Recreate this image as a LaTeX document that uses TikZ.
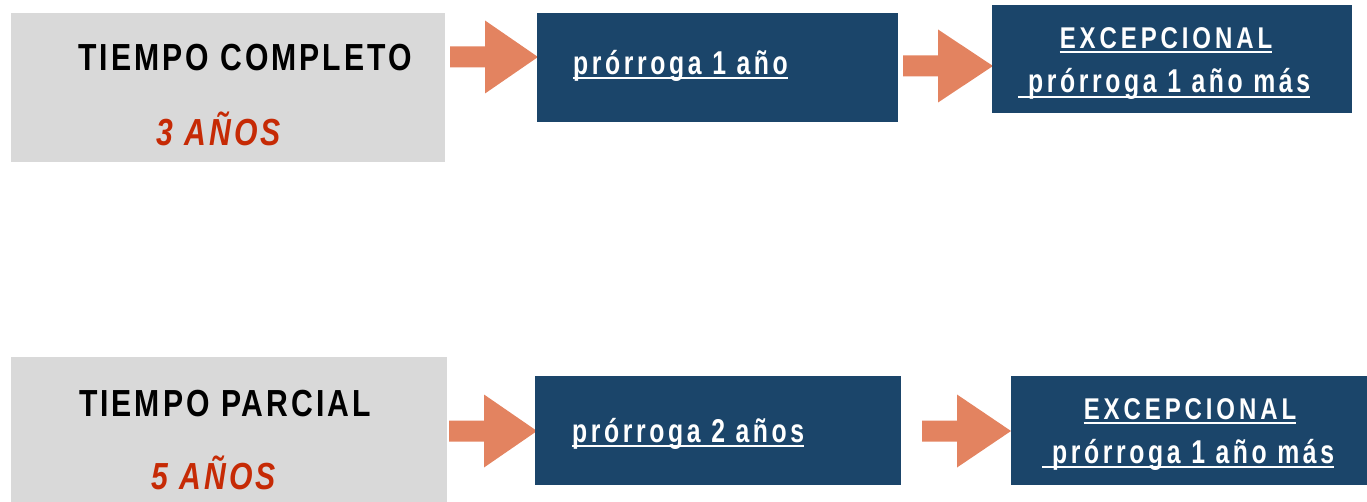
\documentclass[tikz,border=0pt]{standalone}
\usepackage{fontspec}
\newfontfamily\blkfont[FakeStretch=0.8,LetterSpace=8]{Liberation Sans}
\newfontfamily\whtfont[FakeStretch=0.8,LetterSpace=13]{Liberation Sans}
\newfontfamily\lowfont[FakeStretch=0.75,LetterSpace=11]{Liberation Sans}
\definecolor{boxgray}{HTML}{D9D9D9}
\definecolor{boxblue}{HTML}{1B456A}
\definecolor{arroworange}{HTML}{E38360}
\definecolor{textred}{HTML}{C62A05}
\tikzset{
  graybox/.style={fill=boxgray, draw=none, anchor=north west, inner sep=0pt},
  bluebox/.style={fill=boxblue, draw=none, anchor=north west, inner sep=0pt},
  blacktxt/.style={anchor=base, inner sep=0pt, text=black, font=\blkfont\bfseries\fontsize{37.7}{40}\selectfont},
  redtxt/.style={anchor=base, inner sep=0pt, text=textred, font=\blkfont\bfseries\itshape\fontsize{37.7}{40}\selectfont},
  whitetxt/.style={inner sep=0pt, text=white, font=\whtfont\bfseries\fontsize{30}{32}\selectfont},
  lowtxt/.style={inner sep=0pt, text=white, font=\lowfont\bfseries\fontsize{33}{35}\selectfont},
  uline/.style={draw=white, line width=2pt},
  blockarrow/.style={fill=arroworange, draw=none}
}
\newcommand\barrow[4]{%
  \fill[blockarrow] (#1,#4-10.5) -- (#2,#4-10.5) -- (#2,#4-36.5) -- (#3,#4)
    -- (#2,#4+36.5) -- (#2,#4+10.5) -- (#1,#4+10.5) -- cycle;}
\begin{document}
\begin{tikzpicture}[x=1pt,y=-1pt]
\useasboundingbox (0,0) rectangle (1367,502);
% arrows
\barrow{450}{485}{538}{57}
\barrow{903}{938}{993}{66}
\barrow{449}{484}{537}{431}
\barrow{922}{957}{1011}{431}
% boxes
\node[graybox, minimum width=434pt, minimum height=149pt] (g1) at (11,13) {};
\node[bluebox, minimum width=361pt, minimum height=109pt] (b1) at (537,13) {};
\node[bluebox, minimum width=360pt, minimum height=108pt] (c1) at (992,5) {};
\node[graybox, minimum width=436pt, minimum height=145pt] (g2) at (11,357) {};
\node[bluebox, minimum width=366pt, minimum height=109pt] (b2) at (535,376) {};
\node[bluebox, minimum width=356pt, minimum height=109pt] (c2) at (1011,376) {};
% gray texts
\node[blacktxt] (t1) at (245,71) {TIEMPO COMPLETO};
\node[redtxt] (y1) at (218.5,146) {3 AÑOS};
\node[blacktxt] (t2) at (225,416) {TIEMPO PARCIAL};
\node[redtxt] (y2) at (213.5,489) {5 AÑOS};
% blue texts
\node[lowtxt, anchor=base west] (p1) at (573,75) {prórroga 1 año};
\draw[uline] ([yshift=-3.5pt]p1.base west) -- ([yshift=-3.5pt]p1.base east);
\node[lowtxt, anchor=base west] (p2) at (572,442) {prórroga 2 años};
\draw[uline] ([yshift=-3.5pt]p2.base west) -- ([yshift=-3.5pt]p2.base east);
\node[whitetxt, anchor=base] (e1) at (1166,49) {EXCEPCIONAL};
\draw[uline] ([yshift=-3.5pt]e1.base west) -- ([yshift=-3.5pt]e1.base east);
\node[lowtxt, anchor=base west] (m1) at (1028,93) {prórroga 1 año más};
\draw[uline] ([xshift=-10pt,yshift=-4pt]m1.base west) -- ([yshift=-4pt]m1.base east);
\node[whitetxt, anchor=base] (e2) at (1190,419) {EXCEPCIONAL};
\draw[uline] ([yshift=-3.5pt]e2.base west) -- ([yshift=-3.5pt]e2.base east);
\node[lowtxt, anchor=base west] (m2) at (1052,463) {prórroga 1 año más};
\draw[uline] ([xshift=-10pt,yshift=-4pt]m2.base west) -- ([yshift=-4pt]m2.base east);
\end{tikzpicture}
\end{document}
